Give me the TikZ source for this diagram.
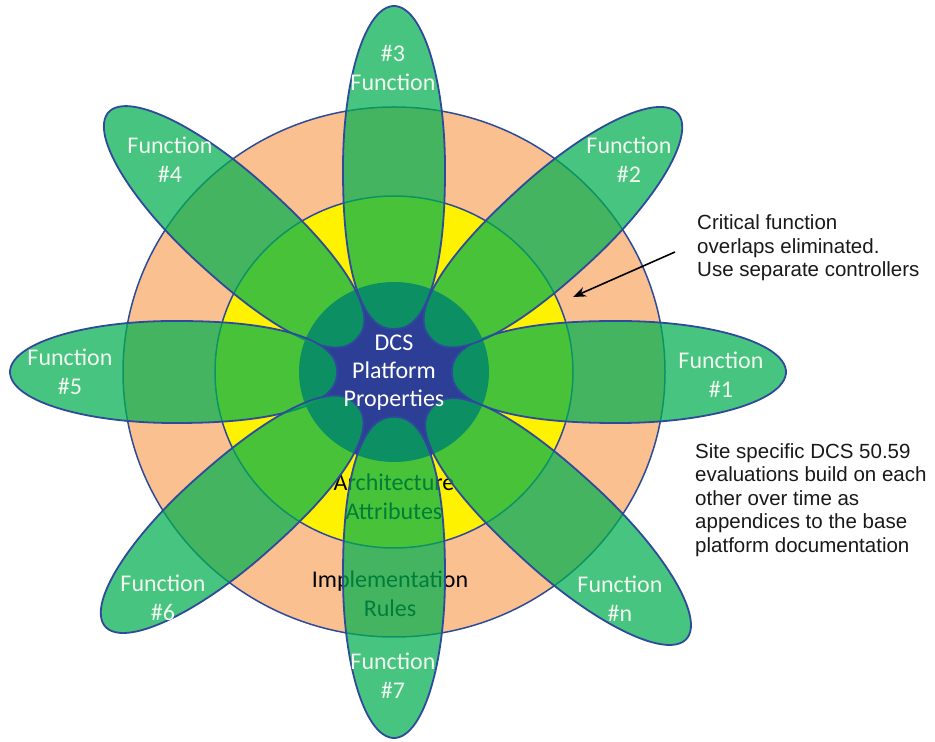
\documentclass[tikz,border=0pt]{standalone}
\usepackage{fontspec}
\setmainfont{Carlito}
\newfontfamily\arialfont{Liberation Sans}
\usetikzlibrary{arrows.meta}
\definecolor{orangefill}{RGB}{250,192,144}
\definecolor{navyline}{RGB}{46,74,154}
\definecolor{navyfill}{RGB}{45,62,150}
\definecolor{petalgreen}{RGB}{0,176,80}
\definecolor{labelwhite}{RGB}{240,248,240}
\definecolor{notetext}{RGB}{25,25,25}
\tikzset{
  ring/.style={draw=navyline, line width=1.5pt},
  petal/.style={fill=petalgreen, fill opacity=0.72, draw=navyline, draw opacity=1, line width=1.8pt},
  flabel/.style={font=\fontsize{24}{29}\selectfont, text=labelwhite, align=center, inner sep=0pt},
  clabel/.style={font=\fontsize{24}{28}\selectfont, text=white, align=center, inner sep=0pt},
  blabel/.style={font=\fontsize{24}{28.5}\selectfont, text=black, align=center, inner sep=0pt},
  note/.style={font=\arialfont\fontsize{20.5}{23.6}\selectfont, text=notetext, align=left, inner sep=0pt, anchor=west},
  arrowline/.style={-{Stealth[length=13pt,width=10pt]}, line width=1.6pt, draw=black}
}
\begin{document}
\begin{tikzpicture}[x=1pt,y=1pt]
\useasboundingbox (0,0) rectangle (935,742);
\fill[white] (0,0) rectangle (935,742);
% rings
\path[ring, fill=orangefill] (394,370) ellipse [x radius=271, y radius=265];
\path[ring, fill=yellow] (394,370) ellipse [x radius=179, y radius=176];
\path[fill=navyfill] (394,370) ellipse [x radius=95, y radius=90];
% texts beneath the petals
\node[blabel] (arch) at (394,245) {Architecture\\Attributes};
\node[blabel] (impl) at (390,148) {Implementation\\Rules};
% petals (fuller towards the centre)
\foreach \ang/\d/\a in {0/225/167, 42.4/217/167, 90/204.5/161.5, 137.7/218/168, 180/220.5/163.5, 221.4/217.5/167.5, 270/205.5/160.5, 317.6/224/172}{
  \begin{scope}[shift={(394,370)}, rotate=\ang]
    \path[petal] plot[domain=1.8:358.2, samples=100, smooth cycle, variable=\t]
      ({\d + \a*(cos(\t) < 0 ? -1 : 1)*abs(cos(\t))^(cos(\t) < 0 ? 0.86 : 1)},
       {51*(sin(\t) < 0 ? -1 : 1)*abs(sin(\t))^(cos(\t) < 0 ? 0.86 : 1)});
  \end{scope}
}
% labels
\node[clabel] (dcs) at (394,369) {DCS\\Platform\\Properties};
\node[flabel] (f1) at (721,367) {Function\\\#1};
\node[flabel] (f2) at (629,582) {Function\\\#2};
\node[flabel] (f3) at (393,674) {\#3\\Function};
\node[flabel] (f4) at (170,582) {Function\\\#4};
\node[flabel] (f5) at (70,370) {Function\\\#5};
\node[flabel] (f6) at (163,144) {Function\\\#6};
\node[flabel] (f7) at (393,66) {Function\\\#7};
\node[flabel] (fn) at (620,143) {Function\\\#n};
% annotations
\node[note] (crit) at (697,494) {Critical function\\overlaps eliminated.\\Use separate controllers};
\node[note] (site) at (695,242) {Site specific DCS 50.59\\evaluations build on each\\other over time as\\appendices to the base\\platform documentation};
\coordinate (tip) at (573,445);
\draw[arrowline] ([xshift=-22pt,yshift=-4pt]crit.west) -- (tip);
\end{tikzpicture}
\end{document}
